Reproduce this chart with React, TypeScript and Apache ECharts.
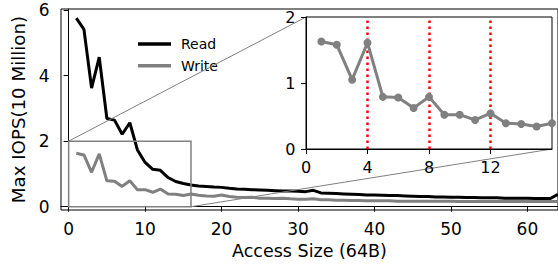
import React, { useEffect, useRef } from "react";
import * as echarts from "echarts";

const accessSizes: number[] = Array.from({ length: 64 }, (_, i) => i + 1);

const readValues: number[] = [
  5.75, 5.41, 3.62, 4.56, 2.69, 2.64, 2.21, 2.56, 1.73, 1.35,
  1.14, 1.11, 0.89, 0.77, 0.71, 0.66, 0.63, 0.62, 0.6, 0.59,
  0.56, 0.54, 0.53, 0.52, 0.51, 0.5, 0.49, 0.48, 0.48, 0.47,
  0.46, 0.5, 0.42, 0.41, 0.4, 0.39, 0.38, 0.37, 0.36, 0.36,
  0.35, 0.34, 0.34, 0.33, 0.32, 0.31, 0.31, 0.3, 0.3, 0.29,
  0.29, 0.28, 0.28, 0.27, 0.27, 0.27, 0.26, 0.26, 0.26, 0.26,
  0.25, 0.25, 0.25, 0.38,
];

const writeValues: number[] = [
  1.63, 1.58, 1.05, 1.61, 0.79, 0.78, 0.62, 0.79, 0.52, 0.52,
  0.44, 0.54, 0.39, 0.38, 0.34, 0.39, 0.35, 0.33, 0.32, 0.36,
  0.31, 0.29, 0.28, 0.29, 0.26, 0.26, 0.25, 0.26, 0.24, 0.23,
  0.23, 0.24, 0.21, 0.21, 0.2, 0.2, 0.19, 0.19, 0.18, 0.18,
  0.18, 0.18, 0.17, 0.17, 0.17, 0.17, 0.17, 0.17, 0.17, 0.17,
  0.16, 0.16, 0.16, 0.16, 0.16, 0.16, 0.16, 0.16, 0.16, 0.16,
  0.16, 0.16, 0.16, 0.16,
];

const mainXTicks: number[] = [0, 10, 20, 30, 40, 50, 60];
const mainYTicks: number[] = [0, 2, 4, 6];
const insetXTicks: number[] = [0, 4, 8, 12];
const insetYTicks: number[] = [0, 1, 2];
const markerLines: number[] = [4, 8, 12];
const zoomX: number[] = [0, 16];
const zoomY: number[] = [0, 2];

const FONT = "DejaVu Sans";
const GREY = "#808080";

export default function App() {
  const ref = useRef<HTMLDivElement>(null);
  useEffect(() => {
    if (!ref.current) return;
    const chart = echarts.init(ref.current, null, { renderer: "svg" });
    const readData = accessSizes.map((x, i) => [x, readValues[i]]);
    const writeData = accessSizes.map((x, i) => [x, writeValues[i]]);

    const tickStyle = { show: true, inside: false, length: 5, lineStyle: { color: "#000", width: 1 } };

    const option: any = {
      animation: false,
      textStyle: { fontFamily: FONT },
      grid: [
        { left: 61, top: 9, width: 497, height: 202, show: true, borderColor: "#000", borderWidth: 1, backgroundColor: "transparent" },
        { left: 306, top: 17, width: 246, height: 132, show: true, borderColor: "#000", borderWidth: 1, backgroundColor: "#fff", z: 10 },
      ],
      legend: {
        data: ["Read", "Write"],
        orient: "vertical",
        left: 133,
        top: 31,
        icon: "rect",
        itemWidth: 33,
        itemHeight: 3.5,
        itemGap: 5.7,
        textStyle: { fontFamily: FONT, fontSize: 14, color: "#000", lineHeight: 16, padding: [0, 0, 0, 5] },
        selectedMode: false,
      },
      xAxis: [
        {
          type: "value", gridIndex: 0, min: -1, max: 64,
          name: "Access Size (64B)", nameLocation: "middle", nameGap: 32,
          nameTextStyle: { fontFamily: FONT, fontSize: 17.5, color: "#000" },
          axisLine: { show: true, lineStyle: { color: "#000", width: 1 } },
          axisTick: { ...tickStyle, customValues: mainXTicks },
          axisLabel: { customValues: mainXTicks, fontFamily: FONT, fontSize: 17, color: "#000", margin: 10 },
          splitLine: { show: false },
        },
        {
          type: "value", gridIndex: 1, min: 0, max: 16, z: 11,
          axisLine: { show: true, lineStyle: { color: "#000", width: 1 } },
          axisTick: { ...tickStyle, customValues: insetXTicks },
          axisLabel: { customValues: insetXTicks, fontFamily: FONT, fontSize: 16, color: "#000", margin: 10 },
          splitLine: { show: false },
        },
      ],
      yAxis: [
        {
          type: "value", gridIndex: 0, min: -0.1, max: 6.03,
          name: "Max IOPS(10 Million)", nameLocation: "middle", nameGap: 27,
          nameTextStyle: { fontFamily: FONT, fontSize: 18.2, color: "#000" },
          axisLine: { show: true, lineStyle: { color: "#000", width: 1 } },
          axisTick: { ...tickStyle, customValues: mainYTicks },
          axisLabel: { customValues: mainYTicks, fontFamily: FONT, fontSize: 17, color: "#000", margin: 11.5 },
          splitLine: { show: false },
        },
        {
          type: "value", gridIndex: 1, min: 0, max: 2, z: 11,
          axisLine: { show: true, lineStyle: { color: "#000", width: 1 } },
          axisTick: { ...tickStyle, customValues: insetYTicks },
          axisLabel: { customValues: insetYTicks, fontFamily: FONT, fontSize: 16, color: "#000", margin: 10.5 },
          splitLine: { show: false },
        },
      ],
      series: [
        {
          name: "Read", type: "line", xAxisIndex: 0, yAxisIndex: 0, data: readData,
          showSymbol: false, symbol: "none", color: "#000",
          lineStyle: { color: "#000", width: 3 }, z: 3,
        },
        {
          name: "Write", type: "line", xAxisIndex: 0, yAxisIndex: 0, data: writeData,
          showSymbol: false, symbol: "none", color: GREY,
          lineStyle: { color: GREY, width: 3 }, z: 3,
        },
        {
          name: "Write (zoom)", type: "line", xAxisIndex: 1, yAxisIndex: 1, data: writeData,
          symbol: "circle", symbolSize: 8, showSymbol: true, clip: true, color: GREY,
          itemStyle: { color: GREY },
          lineStyle: { color: GREY, width: 3 }, z: 12,
          markLine: {
            silent: true, symbol: "none", label: { show: false }, z: 11,
            lineStyle: { color: "#ff0000", type: [2.5, 3.5], width: 2.5 },
            emphasis: { disabled: true },
            data: markerLines.map((v) => ({ xAxis: v })),
          },
        },
      ],
    };
    chart.setOption(option);

    const m = (p: number[]) => chart.convertToPixel({ xAxisIndex: 0, yAxisIndex: 0 }, p) as number[];
    const ins = (p: number[]) => chart.convertToPixel({ xAxisIndex: 1, yAxisIndex: 1 }, p) as number[];
    const tl = m([zoomX[0], zoomY[1]]);
    const br = m([zoomX[1], zoomY[0]]);
    const itl = ins([zoomX[0], zoomY[1]]);
    const ibr = ins([zoomX[1], zoomY[0]]);
    chart.setOption({
      graphic: [
        {
          type: "rect", z: 5, silent: true,
          shape: { x: tl[0], y: tl[1], width: br[0] - tl[0], height: br[1] - tl[1] },
          style: { fill: "none", stroke: GREY, lineWidth: 1.5 },
        },
        {
          type: "line", z: 5, silent: true,
          shape: { x1: tl[0], y1: tl[1], x2: itl[0], y2: itl[1] },
          style: { stroke: GREY, lineWidth: 1 },
        },
        {
          type: "line", z: 5, silent: true,
          shape: { x1: br[0], y1: br[1], x2: ibr[0], y2: ibr[1] },
          style: { stroke: GREY, lineWidth: 1 },
        },
      ],
    });
    return () => chart.dispose();
  }, []);
  return (
    <div
      ref={ref}
      style={{ position: "fixed", left: 0, top: 0, width: 558, height: 265, background: "#fff" }}
    />
  );
}
